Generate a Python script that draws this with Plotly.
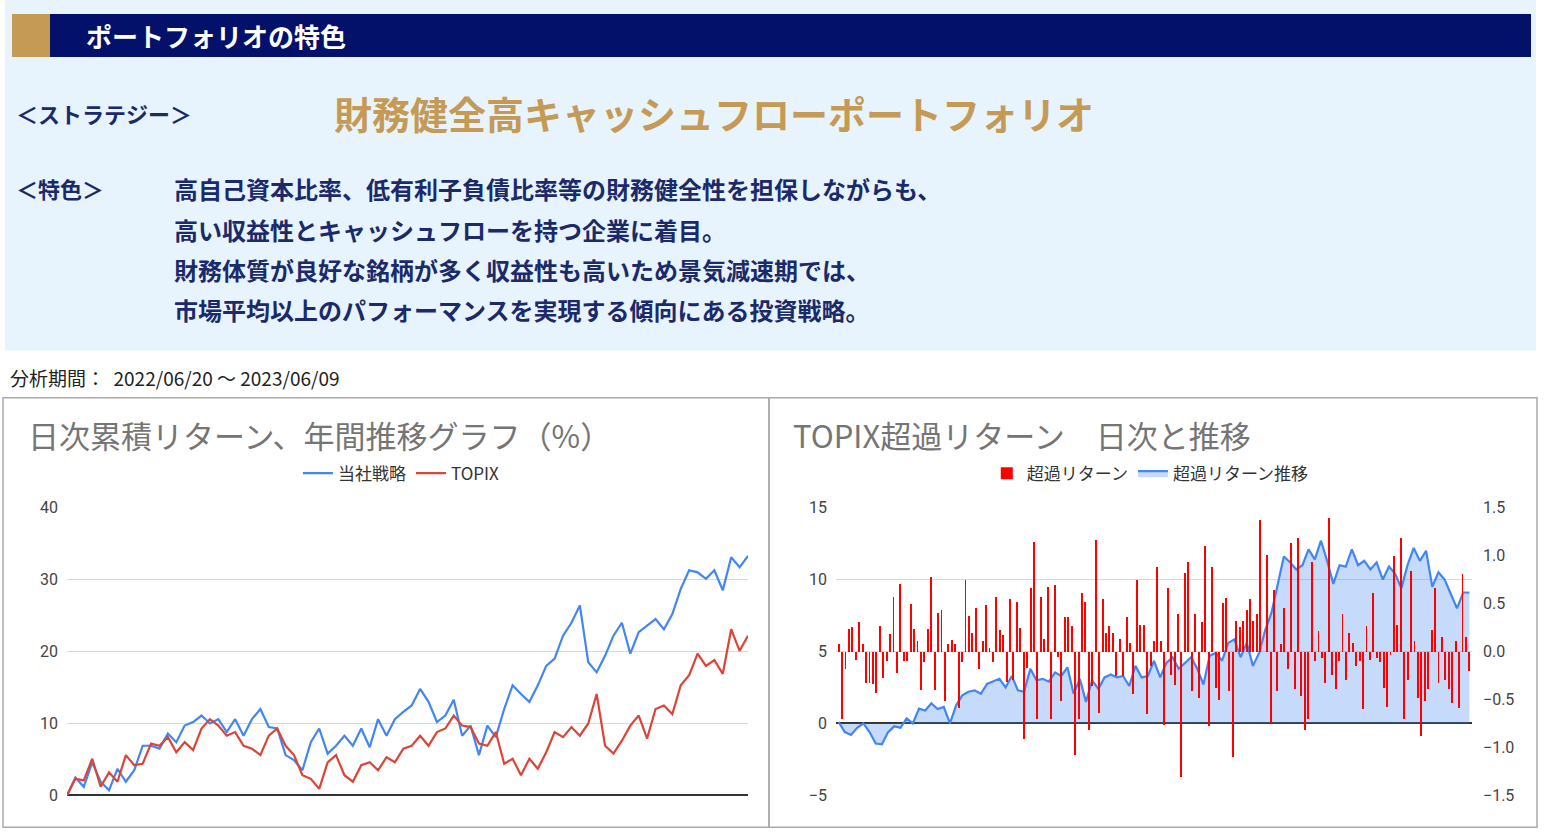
import numpy as np
import plotly.graph_objects as go

strategy = [0, 2.5, 1.2, 4.6, 1.9, 0.7, 3.7, 1.9, 3.5, 6.9, 6.9, 6.5, 8.6, 7.4, 9.7, 10.2, 11.1, 10.0, 10.6, 8.8,
            10.6, 8.3, 10.6, 12.0, 9.5, 9.3, 5.6, 4.9, 3.5, 7.4, 9.3, 5.8, 6.9, 8.3, 6.9, 9.3, 6.7, 10.6, 8.3, 10.6,
            11.6, 12.5, 14.8, 13.0, 10.2, 11.1, 13.3, 8.3, 9.7, 5.6, 9.7, 8.1, 12.0, 15.3, 14.1, 13.0, 15.3, 18.0,
            19.0, 22.2, 24.0, 26.4, 18.5, 17.1, 19.4, 22.2, 24.0, 19.7, 22.7, 23.6, 24.5, 23.1, 25.2, 28.7, 31.3,
            31.0, 30.1, 31.3, 28.5, 33.1, 31.7, 33.3]
topix = [0, 2.3, 2.1, 5.1, 1.2, 3.2, 1.9, 5.6, 4.2, 4.4, 7.2, 6.9, 8.1, 6.0, 7.4, 6.3, 9.3, 10.6, 9.7, 8.3,
         8.8, 6.9, 6.5, 5.6, 8.3, 9.3, 6.9, 5.6, 2.8, 2.3, 0.9, 4.6, 5.6, 2.8, 1.9, 4.2, 4.6, 3.5, 5.3, 4.6,
         6.5, 6.9, 8.3, 6.9, 8.8, 9.3, 11.1, 9.7, 9.5, 7.2, 6.9, 8.8, 4.4, 5.1, 2.8, 5.1, 3.7, 6.0, 8.8, 8.1,
         9.5, 8.3, 10.0, 14.1, 6.9, 5.8, 7.6, 9.7, 11.1, 7.9, 12.0, 12.5, 11.3, 15.3, 16.7, 19.7, 18.0, 18.8,
         16.9, 23.1, 20.1, 22.2]

excess_daily = [0.08, -0.7, -0.18, 0.24, 0.26, -0.08, 0.31, 0.08, -0.32, -0.32, -0.33, -0.43, 0.27, -0.27, -0.1,
                0.19, 0.57, -0.22, 0.71, -0.1, -0.1, 0.5, 0.24, 0.11, -0.4, -0.11, 0.24, 0.78, -0.4, 0.41, 0.44,
                -0.51, 0.08, 0.12, 0.08, -0.58, -0.11, 0.75, 0.37, 0.2, 0.46, -0.18, 0.11, 0.49, 0.04, -0.11, 0.57,
                0.23, 0.18, -0.31, 0.55, -0.29, 0.52, 0.25, -0.91, -0.17, 0.67, 1.15, -0.7, 0.57, 0.13, 0.68, -0.7,
                0.7, -0.05, -0.51, 0.36, 0.36, 0.27, -1.07, -0.7, 0.61, 0.52, -0.81, -0.36, 1.17, -0.64, 0.55, 0.2,
                0.27, 0.2, -0.25, 0.13, -0.25, 0.36, 0.09, -0.44, 0.75, 0.28, 0.28, -0.65, -0.15, 0.11, 0.88,
                0.11, -0.76, 0.67, -0.24, -0.34, 0.39, -1.3, 0.82, 0.94, -0.41, 0.39, -0.48, 0.31, 1.1, -0.77,
                0.88, -0.38, -0.5, 0.51, 0.56, -0.41, -1.1, 0.32, 0.26, 0.32, 0.44, 0.55, 0.32, 0.39, 1.38, 0.0,
                1.01, -0.74, 0.65, -0.41, 0.08, 0.46, -0.18, 1.14, -0.39, 1.19, -0.46, -0.81, -0.7, 0.94, -0.1,
                0.22, -0.06, -0.32, 1.4, -0.24, -0.39, -0.1, 0.39, -0.29, 0.2, 0.09, -0.15, -0.1, -0.6, 0.27,
                -0.08, 0.61, -0.06, -0.11, -0.38, -0.57, -0.03, 1.0, 0.28, 1.19, -0.7, -0.29, 0.84, 0.11, -0.48,
                -0.88, -0.51, -0.39, 0.23, 0.67, -0.32, 0.16, -0.29, -0.39, -0.53, 0.11, -0.58, 0.81, 0.16, -0.2]
excess_cum = [0.1, -0.6, -0.8, -0.3, 0.0, -0.6, -1.4, -1.45, -0.6, -0.2, -0.3, 0.35, 0.0, 1.03, 0.9, 1.4, 1.0,
              1.15, 0.0, 1.26, 1.95, 2.2, 2.3, 2.06, 2.75, 2.9, 3.1, 2.5, 3.3, 2.3, 2.2, 3.8, 3.0, 3.1, 2.9,
              3.55, 3.3, 3.9, 2.06, 3.1, 1.5, 3.0, 2.4, 3.2, 3.4, 3.2, 3.3, 2.6, 4.0, 3.2, 3.3, 4.35, 3.2, 4.2,
              4.6, 3.8, 4.2, 4.6, 3.8, 2.7, 4.7, 4.9, 4.35, 5.6, 5.85, 4.6, 5.6, 4.0, 4.9, 6.5, 7.7, 9.55, 11.6,
              11.2, 10.7, 11.0, 12.1, 11.4, 12.7, 11.3, 9.7, 11.0, 10.9, 12.1, 11.0, 11.3, 10.7, 11.2, 10.0,
              10.9, 10.4, 9.4, 11.0, 12.2, 11.3, 12.0, 9.5, 10.5, 10.0, 9.0, 8.0, 9.1, 9.1]

N_DAYS = 240
x_l = np.linspace(0, N_DAYS, len(strategy))
x_t = np.linspace(0, N_DAYS, len(topix))
x_b = np.linspace(0, N_DAYS, len(excess_daily))
x_c = np.linspace(0, N_DAYS, len(excess_cum))

BLUE = "#4285f4"
RED = "#db4437"
NAVY = "#1b2a6b"
FONT = "Noto Sans CJK JP"

fig = go.Figure()
fig.add_trace(go.Bar(x=x_b, y=excess_daily, name="超過リターン", marker=dict(color="#ff0000", line_width=0),
                     width=0.35, xaxis="x2", yaxis="y3", base=0, legend="legend2"))
fig.add_trace(go.Scatter(x=x_l, y=strategy, mode="lines", name="当社戦略",
                         line=dict(color=BLUE, width=2.2), xaxis="x", yaxis="y", legend="legend"))
fig.add_trace(go.Scatter(x=x_t, y=topix, mode="lines", name="TOPIX",
                         line=dict(color=RED, width=2.2), xaxis="x", yaxis="y", legend="legend"))
fig.add_trace(go.Scatter(x=x_c, y=excess_cum, mode="lines", name="超過リターン推移", fill="tozeroy",
                         fillcolor="rgba(66,133,244,0.3)", line=dict(color=BLUE, width=2.2),
                         xaxis="x2", yaxis="y2", legend="legend2"))

H = 835
def py(p):
    # compensate for the page's vertical placement (paper appears ~9px down, ~0.978 tall)
    return 1 - ((p - 9) / 0.978) / H

grid = "#d9d9d9"
tickfont = dict(family="Roboto", size=16, color="#444")
fig.update_layout(
    autosize=True, margin=dict(l=0, r=0, t=0, b=0),
    paper_bgcolor="white", plot_bgcolor="white", showlegend=True, bargap=0,
    font=dict(family=FONT),
    xaxis=dict(domain=[67/1544, 748/1544], range=[0, N_DAYS], visible=False),
    yaxis=dict(domain=[py(796), py(508)], range=[0, 40], dtick=10, gridcolor=grid, zeroline=True,
               zerolinecolor="#333", zerolinewidth=1.5, tickfont=tickfont, ticks="", ticklabelstandoff=8),
    xaxis2=dict(domain=[836/1544, 1472/1544], range=[-1, N_DAYS + 1], visible=False),
    yaxis2=dict(domain=[py(796), py(508)], anchor="x2", range=[-5, 15], dtick=5, gridcolor=grid,
                zeroline=True, zerolinecolor="#333", zerolinewidth=1.5, tickfont=tickfont, ticklabelstandoff=8),
    yaxis3=dict(overlaying="y2", anchor="x2", side="right", range=[-1.5, 1.5], dtick=0.5, tickformat=".1f",
                showgrid=False, zeroline=False, tickfont=tickfont, ticklabelstandoff=10),
    legend=dict(orientation="h", x=0.26, xanchor="center", y=py(474), yanchor="middle",
                font=dict(family=FONT, size=17, color="#333"), bgcolor="rgba(0,0,0,0)"),
    legend2=dict(orientation="h", x=0.745, xanchor="center", y=py(474), yanchor="middle",
                 font=dict(family=FONT, size=17, color="#333"), bgcolor="rgba(0,0,0,0)"),
)

shapes = [
    dict(type="rect", xref="paper", yref="paper", x0=5/1544, x1=1536/1544, y0=py(351), y1=1.02,
         fillcolor="#e8f4fd", line_width=0, layer="below"),
    dict(type="rect", xref="paper", yref="paper", x0=12/1544, x1=1531/1544, y0=py(57), y1=py(14),
         fillcolor="#03116b", line_width=0, layer="below"),
    dict(type="rect", xref="paper", yref="paper", x0=12/1544, x1=50/1544, y0=py(57), y1=py(14),
         fillcolor="#c49a55", line_width=0, layer="below"),
    dict(type="rect", xref="paper", yref="paper", x0=3/1544, x1=769/1544, y0=py(828), y1=py(398),
         fillcolor="rgba(0,0,0,0)", line=dict(color="#aaaaaa", width=1.5)),
    dict(type="rect", xref="paper", yref="paper", x0=769/1544, x1=1537/1544, y0=py(828), y1=py(398),
         fillcolor="rgba(0,0,0,0)", line=dict(color="#aaaaaa", width=1.5)),
]
fig.update_layout(shapes=shapes)

def ann(text, x, y, size, color, bold=False, family=FONT):
    t = f"<b>{text}</b>" if bold else text
    return dict(text=t, xref="paper", yref="paper", x=x/1544, y=py(y), xanchor="left", yanchor="middle",
                showarrow=False, font=dict(family=family, size=size, color=color))

anns = [
    ann("ポートフォリオの特色", 84, 36, 26, "white", True),
    ann("＜ストラテジー＞", 14, 113, 22, NAVY, True),
    ann("財務健全高キャッシュフローポートフォリオ", 332, 113, 38, "#c49a55", True),
    ann("＜特色＞", 14, 188, 22, NAVY, True),
    ann("高自己資本比率、低有利子負債比率等の財務健全性を担保しながらも、", 172, 189, 24, NAVY, True),
    ann("高い収益性とキャッシュフローを持つ企業に着目。", 172, 230, 24, NAVY, True),
    ann("財務体質が良好な銘柄が多く収益性も高いため景気減速期では、", 172, 270, 24, NAVY, True),
    ann("市場平均以上のパフォーマンスを実現する傾向にある投資戦略。", 172, 310, 24, NAVY, True),
    ann("分析期間：  2022/06/20 ～ 2023/06/09", 8, 378, 19, "#222"),
    ann("日次累積リターン、年間推移グラフ（%）", 26, 435, 31, "#757575"),
    ann("TOPIX超過リターン　日次と推移", 791, 435, 31, "#757575"),
]
fig.update_layout(annotations=anns)

fig.write_html("out.html", config={"displayModeBar": False, "responsive": True},
               default_width="100vw", default_height="100vh",
               post_script="document.body.style.margin='0';document.body.style.overflow='hidden';")
